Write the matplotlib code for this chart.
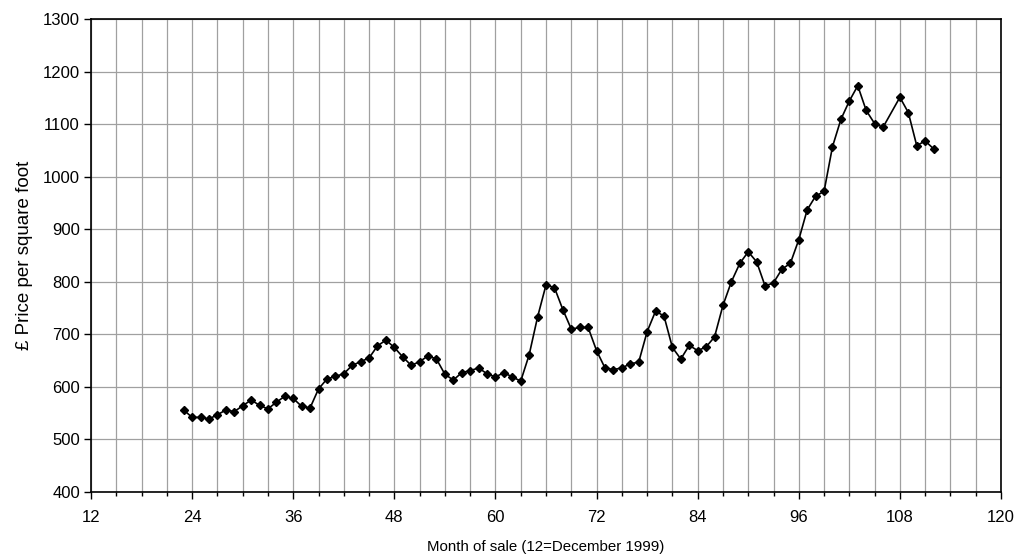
import matplotlib.pyplot as plt
from matplotlib.ticker import MultipleLocator

plt.rcParams['font.family'] = ['Liberation Sans', 'DejaVu Sans']

# month of sale (12 = December 1999); month 107 has no value
months = list(range(23, 107)) + list(range(108, 113))
prices = [
    556, 542, 542, 539, 547, 556, 553, 564, 575, 565,   # 23-32
    558, 571, 582, 578, 563, 560, 596, 615, 620, 625,   # 33-42
    641, 648, 655, 678, 689, 675, 657, 641, 648, 659,   # 43-52
    653, 624, 613, 627, 631, 636, 625, 619, 627, 619,   # 53-62
    611, 661, 733, 794, 789, 747, 710, 713, 713, 669,   # 63-72
    636, 633, 636, 644, 647, 705, 744, 735, 675, 653,   # 73-82
    679, 669, 676, 695, 755, 800, 835, 857, 838, 792,   # 83-92
    798, 824, 835, 880, 937, 963, 972, 1057, 1109, 1144,  # 93-102
    1173, 1126, 1101, 1094,                             # 103-106
    1151, 1122, 1059, 1068, 1053,                       # 108-112
]

x_ticks = [12, 24, 36, 48, 60, 72, 84, 96, 108, 120]

fig = plt.figure(figsize=(10.18, 5.57), dpi=100)
ax = fig.add_axes([0.0894, 0.1167, 0.8939, 0.8492])

ax.plot(months, prices, color='black', linewidth=1.2, marker='D',
        markersize=4.5, markerfacecolor='black', markeredgecolor='black')

ax.set_xlim(12, 120)
ax.set_ylim(400, 1300)
ax.set_xticks(x_ticks)
ax.xaxis.set_minor_locator(MultipleLocator(3))
ax.yaxis.set_major_locator(MultipleLocator(100))

ax.grid(True, which='both', axis='x', color='#a0a0a0', linewidth=0.9)
ax.grid(True, which='major', axis='y', color='#a0a0a0', linewidth=0.9)
ax.set_axisbelow(True)

for s in ax.spines.values():
    s.set_color('black')
    s.set_linewidth(1.2)

ax.tick_params(axis='both', which='major', direction='out', length=5,
               width=1, labelsize=12, color='black')
ax.tick_params(axis='x', which='major', pad=8)
ax.tick_params(axis='y', which='major', pad=3)
ax.tick_params(axis='x', which='minor', direction='out', length=3, width=1)

ax.set_xlabel('Month of sale (12=December 1999)', fontsize=10.8, labelpad=11)
ax.set_ylabel('£ Price per square foot', fontsize=13.5, labelpad=7)

plt.savefig('out.png', dpi=100)
